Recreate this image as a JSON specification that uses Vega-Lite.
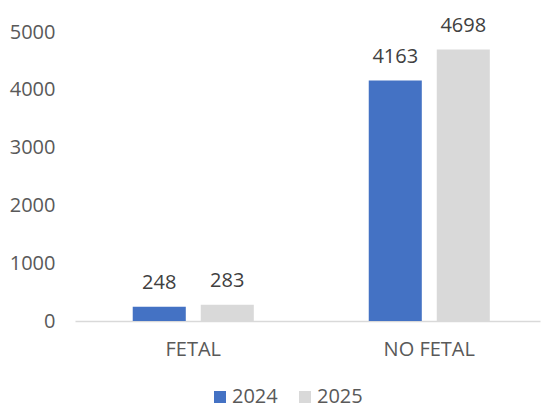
{
  "$schema": "https://vega.github.io/schema/vega-lite/v6.json",
  "width": 465,
  "height": 289,
  "autosize": {"type": "none"},
  "padding": {"left": 75, "top": 32, "right": 3, "bottom": 90},
  "background": "white",
  "config": {
    "view": {"stroke": null},
    "font": "Open Sans",
    "text": {"font": "Open Sans"}
  },
  "data": {
    "values": [
      {"category": "FETAL", "year": "2024", "value": 248},
      {"category": "FETAL", "year": "2025", "value": 283},
      {"category": "NO FETAL", "year": "2024", "value": 4163},
      {"category": "NO FETAL", "year": "2025", "value": 4698}
    ]
  },
  "encoding": {
    "x": {
      "field": "category",
      "type": "nominal",
      "sort": ["FETAL", "NO FETAL"],
      "scale": {"paddingInner": 0.487, "paddingOuter": 0.2286, "align": 0.535},
      "axis": {
        "title": null,
        "labelAngle": 0,
        "ticks": false,
        "domainColor": "#d9d9d9",
        "domainWidth": 1.5,
        "labelFontSize": 20,
        "labelColor": "#595959",
        "labelPadding": 18,
        "labelFont": "Open Sans"
      }
    },
    "xOffset": {
      "field": "year",
      "type": "nominal",
      "sort": ["2024", "2025"],
      "scale": {"paddingInner": 0.22, "paddingOuter": 0}
    },
    "y": {
      "field": "value",
      "type": "quantitative",
      "scale": {"domain": [0, 5000], "nice": false},
      "axis": {
        "title": null,
        "values": [0, 1000, 2000, 3000, 4000, 5000],
        "format": "d",
        "grid": false,
        "domain": false,
        "ticks": false,
        "labelFontSize": 20,
        "labelColor": "#595959",
        "labelPadding": 20,
        "labelFont": "Open Sans"
      }
    }
  },
  "layer": [
    {
      "mark": {"type": "bar"},
      "encoding": {
        "color": {
          "field": "year",
          "type": "nominal",
          "scale": {"domain": ["2024", "2025"], "range": ["#4472C4", "#D9D9D9"]},
          "legend": {
            "title": null,
            "orient": "none",
            "legendX": 135,
            "legendY": 355,
            "direction": "horizontal",
            "symbolType": "square",
            "symbolSize": 144,
            "symbolStrokeWidth": 0,
            "labelFontSize": 20,
            "labelColor": "#595959",
            "labelFont": "Open Sans",
            "labelOffset": 2,
            "columnPadding": 17
          }
        }
      }
    },
    {
      "mark": {"type": "text", "baseline": "alphabetic", "dy": -17.5, "fontSize": 20, "color": "#404040", "font": "Open Sans"},
      "encoding": {
        "text": {"field": "value", "type": "quantitative", "format": "d"}
      }
    }
  ]
}
